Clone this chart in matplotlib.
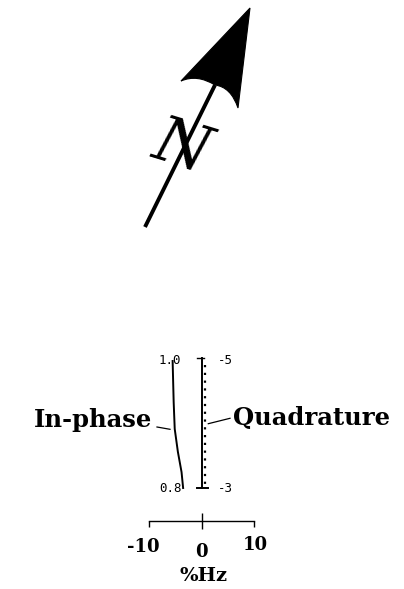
import matplotlib
matplotlib.use("Agg")
import matplotlib.pyplot as plt
import matplotlib.transforms as mtransforms
from matplotlib.path import Path
from matplotlib.patches import PathPatch

# ---- data ----
# in-phase trace: profile position (1.0 top .. 0.8 bottom) vs offset in %Hz
inphase_pos = [1.0, 0.935, 0.893, 0.857, 0.825, 0.80]
inphase_hz = [-5.5, -5.3, -5.1, -4.5, -3.8, -3.5]
# quadrature: baseline + dotted trace
quad_pos = [1.004, 0.80]
quad_base_hz = [0.0, 0.0]
quad_trace_pos = [0.994, 0.805]
quad_trace_hz = [0.63, 0.63]
scale_ticks = [-10, 0, 10]
scale_labels = ["-10", "0", "10"]
inphase_ticks = ["1.0", "0.8"]
quad_ticks = ["-5", "-3"]

INK = "#000000"
SERIF = "DejaVu Serif"

fig = plt.figure(figsize=(4.04, 5.89), dpi=100)
fig.patch.set_facecolor("white")

# full-figure canvas in pixel units (y down) for the north arrow + labels
ax = fig.add_axes([0, 0, 1, 1])
ax.set_xlim(0, 404); ax.set_ylim(589, 0); ax.axis("off")

# ---- north arrow ----
ax.plot([145, 215], [227, 85], color=INK, lw=2.8, solid_capstyle="butt")
verts = [(250, 8), (181, 81), (197, 74), (215, 85), (231, 87), (238, 108), (250, 8), (250, 8)]
codes = [Path.MOVETO, Path.LINETO, Path.CURVE3, Path.CURVE3, Path.CURVE3, Path.CURVE3,
         Path.LINETO, Path.CLOSEPOLY]
ax.add_patch(PathPatch(Path(verts, codes), facecolor=INK, edgecolor=INK, lw=0.8))
ax.text(181, 148, "N", fontsize=46, style="italic", family=SERIF, color=INK,
        rotation=-17, ha="center", va="center", rotation_mode="anchor")

# ---- traces ----
tax = fig.add_axes([149/404, 1-488/589, 105/404, 127/589])
tax.set_xlim(-10, 10); tax.set_ylim(0.8, 1.0); tax.axis("off")
tax.plot(inphase_hz, inphase_pos, color=INK, lw=1.4, clip_on=False)
tax.plot(quad_base_hz, quad_pos, color=INK, lw=1.4, clip_on=False)
tax.plot(quad_trace_hz, quad_trace_pos, color=INK, lw=1.6, ls=(0, (1, 2.5)), clip_on=False)
# small end marks on the quadrature baseline
tax.plot([-0.8, 0.4], [1.004, 1.004], color=INK, lw=1.0, clip_on=False)
tax.plot([-0.8, 1.25], [0.80, 0.80], color=INK, lw=1.4, clip_on=False)

mono = dict(family="DejaVu Sans Mono", fontsize=9, color=INK, ha="center", va="center")
for lab, y in zip(inphase_ticks, [1.0, 0.8]):
    tax.text(-5.95, y, lab, **mono)
for lab, y in zip(quad_ticks, [1.0, 0.8]):
    tax.text(4.55, y, lab, **mono)

# labels with leaders
bold = dict(family=SERIF, fontweight="bold", color=INK, fontsize=17.5)
ax.text(152, 426.7, "In-phase", ha="right", va="baseline", **bold)
ax.text(233, 425, "Quadrature", ha="left", va="baseline", **bold)
ax.plot([157, 170], [427, 429.3], color=INK, lw=0.9)
ax.plot([208.3, 230], [423.7, 418.3], color=INK, lw=0.9)

# ---- %Hz scale bar ----
sax = fig.add_axes([149/404, 1-522/589, 105/404, 0.001])
sax.set_xlim(-10, 10); sax.set_ylim(0, 1)
sax.set_facecolor("none")
for s in ("left", "right", "bottom"):
    sax.spines[s].set_visible(False)
sax.spines["top"].set_linewidth(1.0)
sax.set_yticks([])
sax.xaxis.set_ticks_position("top")
sax.set_xticks([-10, 10])
sax.set_xticks([0], minor=True)
sax.tick_params(axis="x", which="major", direction="in", length=4, width=1.0, labeltop=False)
sax.tick_params(axis="x", which="minor", direction="inout", length=12, width=1.0, labeltop=False)

trans = mtransforms.blended_transform_factory(sax.transData, ax.transData)
lab_x = [-11.0, 0.0, 10.3]
lab_y = [547, 552, 545]
for lx, ly, lab in zip(lab_x, lab_y, scale_labels):
    ax.text(lx, ly, lab, transform=trans, ha="center", va="center",
            family=SERIF, fontweight="bold", fontsize=13, color=INK)
ax.text(0.4, 576, "%Hz", transform=trans, ha="center", va="center",
        family=SERIF, fontweight="bold", fontsize=14, color=INK)

fig.savefig("out.png", dpi=100, facecolor="white")
